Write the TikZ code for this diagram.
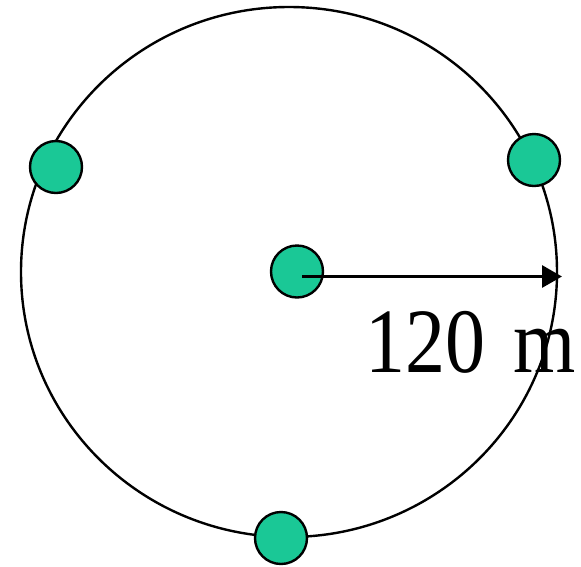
\documentclass[tikz,border=0pt]{standalone}
\usepackage{fontspec}
\setmainfont{Liberation Serif}
\usetikzlibrary{arrows.meta,shapes.geometric}
\definecolor{dotgreen}{RGB}{26,200,150}
\begin{document}
\begin{tikzpicture}[x=1pt,y=-1pt,
  dotnode/.style={circle,draw=black,line width=2.4pt,fill=dotgreen,minimum size=52pt,inner sep=0pt},
  ring/.style={draw=black,line width=2.4pt},
  label text/.style={anchor=base west,inner sep=0pt,xscale=0.87,font=\fontsize{92}{92}\selectfont}]
\useasboundingbox (0,0) rectangle (581,566);
\node[ring,ellipse,minimum width=536pt,minimum height=530pt,inner sep=0pt] (ring) at (289,272) {};
\node[dotnode] (left) at (56,167) {};
\node[dotnode] (right) at (534,160) {};
\node[dotnode] (bottom) at (281,538) {};
\node[dotnode] (c) at (297,271.5) {};
\coordinate (tip) at (562,276.5);
\draw[line width=3pt,-{Triangle[length=20pt,width=22pt]}] (c.center) ++(5,5) -- (tip);
\node[label text] (lbl) at (365,372) {120\hspace{10pt} m};
\end{tikzpicture}
\end{document}
